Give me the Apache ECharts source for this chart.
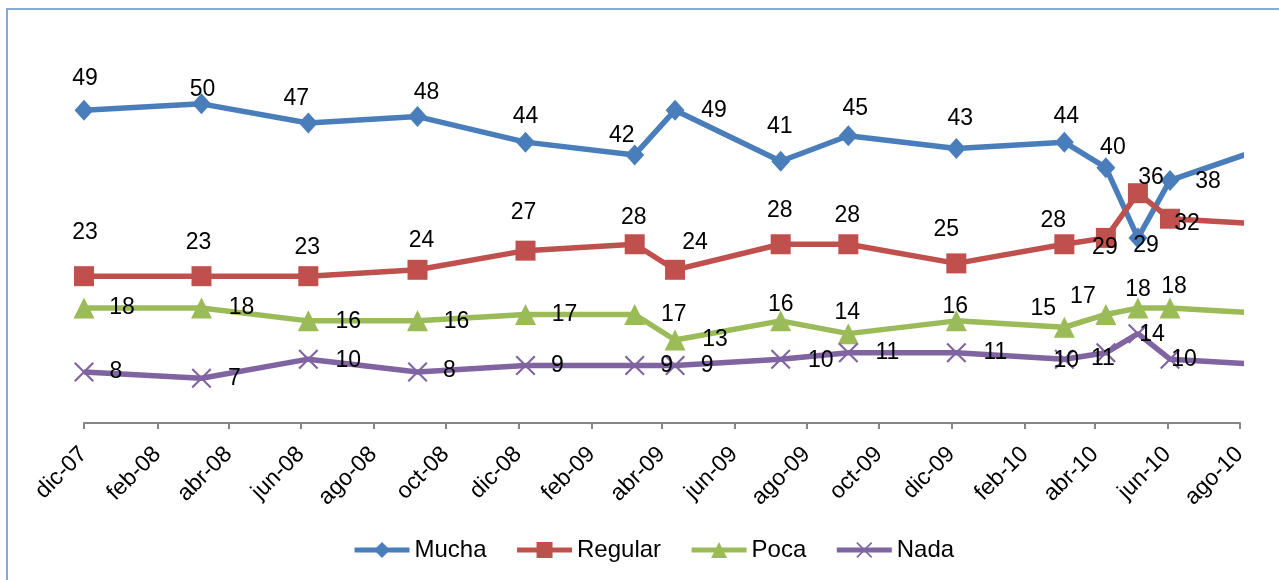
<!DOCTYPE html>
<html>
<head>
<meta charset="utf-8">
<script src="https://cdn.jsdelivr.net/npm/echarts@6/dist/echarts.min.js"></script>
<style>
  html, body { margin: 0; padding: 0; background: #fff; }
  #chart { width: 1279px; height: 580px; }
</style>
</head>
<body>
<div id="chart"></div>
<script>
// survey dates (last one lies past the axis end, so its line gets clipped)
const dates = ['2007-12-01', '2008-03-09', '2008-06-07', '2008-09-07', '2008-12-07',
  '2009-03-09', '2009-04-12', '2009-07-10', '2009-09-05', '2009-12-05',
  '2010-03-06', '2010-04-10', '2010-05-07', '2010-06-03', '2010-09-05']

const mucha   = [49, 50, 47, 48, 44, 42, 49, 41, 45, 43, 44, 40, 29, 38, 44]
const regular = [23, 23, 23, 24, 27, 28, 24, 28, 28, 25, 28, 29, 36, 32, 31]
const poca    = [18, 18, 16, 16, 17, 17, 13, 16, 14, 16, 15, 17, 18, 18, 17]
const nada    = [8, 7, 10, 8, 9, 9, 9, 10, 11, 11, 10, 11, 14, 10, 9]

const tickDates = ['2007-12-01', '2008-02-01', '2008-04-01', '2008-06-01', '2008-08-01',
  '2008-10-01', '2008-12-01', '2009-02-01', '2009-04-01', '2009-06-01', '2009-08-01',
  '2009-10-01', '2009-12-01', '2010-02-01', '2010-04-01', '2010-06-01', '2010-08-01']
const tickLabels = ['dic-07', 'feb-08', 'abr-08', 'jun-08', 'ago-08', 'oct-08', 'dic-08',
  'feb-09', 'abr-09', 'jun-09', 'ago-09', 'oct-09', 'dic-09', 'feb-10', 'abr-10',
  'jun-10', 'ago-10']

// label placement (px from the marker), picked by hand like in the original sheet
const muchaOff = [[1,-32],[1,-14],[-12,-24],[9,-24],[0,-25],[-13,-19],[39,0],[-1,-35],
  [7,-27],[4,-30],[2,-25],[7,-20],[8,8],[38,1],null]
const regularOff = [[1,-44],[-3,-34],[-1,-29],[4,-29],[-2,-38],[-1,-27],[20,-27],[-1,-34],
  [-1,-29],[-10,-34],[-11,-24],[-1,10],[13,-16],[17,5],null]
const pocaOff = [[38,0],[40,0],[40,1],[39,1],[39,0],[39,0],[40,0],[0,-16],[-1,-21],
  [-1,-14],[-21,-19],[-23,-18],[0,-18],[4,-21],null]
const nadaOff = [[32,0],[33,0],[40,1],[32,-1],[32,0],[32,0],[32,0],[40,1],[39,0],
  [39,0],[2,1],[-3,6],[14,1],[14,0],null]

const FONT = "'Liberation Sans', Arial, sans-serif"

// days since 1 Dec 2007, so the x axis is a plain value axis
function toDay(s) {
  const p = s.split('-').map(Number)
  return Math.round((Date.UTC(p[0], p[1] - 1, p[2]) - Date.UTC(2007, 11, 1)) / 86400000)
}
const tickDays = tickDates.map(toDay)

function makeData(values, offs) {
  return values.map((v, i) => {
    const off = offs[i]
    return {
      value: [toDay(dates[i]), v],
      label: off ? { show: true, offset: off } : { show: false }
    }
  })
}

function makeSeries(name, values, offs, color, symbol, size) {
  return {
    name: name,
    type: 'line',
    data: makeData(values, offs),
    symbol: symbol,
    symbolSize: size,
    showAllSymbol: true,
    clip: true,
    lineStyle: { color: color, width: 5.5 },
    itemStyle: { color: color },
    label: {
      show: true,
      position: 'inside',
      color: '#000',
      fontSize: 23,
      fontFamily: FONT,
      formatter: p => p.value[1]
    },
    emphasis: { disabled: true }
  }
}

const xShape = 'path://M0,1.5L1.5,0L10,8.5L18.5,0L20,1.5L11.5,10L20,18.5L18.5,20L10,11.5L1.5,20L0,18.5L8.5,10Z'

const chart = echarts.init(document.getElementById('chart'))
chart.setOption({
  animation: false,
  backgroundColor: '#fff',
  graphic: [{
    type: 'rect',
    shape: { x: 7, y: 9, width: 1400, height: 700 },
    style: { fill: 'none', stroke: '#86A8D6', lineWidth: 2 },
    silent: true
  }],
  grid: { left: 84, right: 39, top: 40, bottom: 157 },
  legend: {
    left: 347,
    top: 533,
    itemWidth: 55,
    itemHeight: 20,
    itemGap: 28,
    lineStyle: { width: 5 },
    textStyle: { fontSize: 24, fontFamily: FONT, color: '#000' },
    data: ['Mucha', 'Regular', 'Poca', 'Nada']
  },
  xAxis: {
    type: 'value',
    min: toDay('2007-12-01'),
    max: toDay('2010-08-01'),
    axisLine: { lineStyle: { color: '#868686', width: 2 } },
    axisTick: { show: true, customValues: tickDays, length: 6, inside: false,
      lineStyle: { color: '#868686', width: 2 } },
    splitLine: { show: false },
    axisLabel: {
      customValues: tickDays,
      rotate: 45,
      margin: 11,
      padding: [0, 12, 0, 0],
      align: 'right',
      verticalAlign: 'top',
      fontSize: 23,
      fontFamily: FONT,
      color: '#000',
      formatter: v => {
        const i = tickDays.indexOf(v)
        return i >= 0 ? tickLabels[i] : ''
      }
    }
  },
  yAxis: {
    type: 'value',
    min: 0,
    max: 60,
    show: false
  },
  series: [
    makeSeries('Mucha', mucha, muchaOff, '#4A7EBB', 'diamond', [19, 21]),
    makeSeries('Regular', regular, regularOff, '#C0504D', 'rect', 20),
    makeSeries('Poca', poca, pocaOff, '#9BBB59', 'triangle', 21),
    makeSeries('Nada', nada, nadaOff, '#8064A2', xShape, 20)
  ]
})
</script>
</body>
</html>
